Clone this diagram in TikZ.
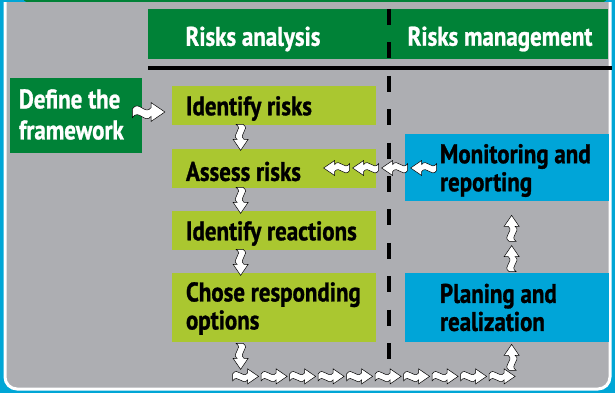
\documentclass[tikz,border=0pt]{standalone}
\usepackage{fontspec}
\setmainfont{PT Sans}[FakeStretch=0.85,FakeBold=1]
\usetikzlibrary{calc}
\definecolor{pageblue}{RGB}{0,166,214}
\definecolor{panelgrey}{RGB}{173,174,178}
\definecolor{darkgreen}{RGB}{0,130,55}
\definecolor{lightgreen}{RGB}{170,199,48}
\definecolor{boxblue}{RGB}{0,165,216}
\tikzset{
     %set default line width to 0.75pt
    every picture/.style={line width=0.75pt},
    head-box/.style={
        fill=darkgreen,
        minimum width=460pt,
        minimum height=50pt,
        inner sep=0pt,
    },
    frame-box/.style={
        fill=darkgreen,
        minimum width=132pt,
        minimum height=75pt,
        inner sep=0pt,
    },
    risk-box/.style={
        fill=lightgreen,
        minimum width=204pt,
        inner sep=0pt,
    },
    mgmt-box/.style={
        fill=boxblue,
        minimum width=204pt,
        inner sep=0pt,
    },
    box-text/.style={
        anchor=west,
        inner sep=0pt,
        align=left,
        font=\bfseries\fontsize{27}{28}\selectfont,
    },
    head-text/.style={
        text=white,
        inner sep=0pt,
        font=\bfseries\fontsize{27}{28}\selectfont,
    },
    wave-line/.style={
        fill=white,
        draw=black,
        line width=0.5pt,
    },
    wave arrow/.pic={
        \draw[wave-line] (0,-2.5) .. controls (5,-10) and (10,3) .. (15,-3.5) -- (15,-7.5) -- (26,0) -- (15,7.5) -- (15,3.5) .. controls (10,10) and (5,-3) .. (0,4.5) -- cycle;
    },
}
\begin{document}
\begin{tikzpicture}[x=1pt,y=-1pt]
\useasboundingbox (0,0) rectangle (615,393);

%page and panel
\fill[pageblue] (0,0) rectangle (615,393);
\fill[darkgreen, rounded corners=8pt] (22,-20) rectangle (608,3);
\begin{scope}
\clip (0,3) rectangle (615,393);
\draw[white, line width=3pt, fill=panelgrey, rounded corners=12pt] (5,-20) rectangle (610,389);
\end{scope}

%header
\node[head-box] (head) at (378,34) {};
\draw[line width=4pt] (148,68) -- (612,68);

%boxes
\node[frame-box] (frame) at (76,115.5) {};
\node[risk-box, minimum height=39pt] (idr) at (274,105.5) {};
\node[risk-box, minimum height=39pt] (asr) at (274,168.5) {};
\node[risk-box, minimum height=39pt] (ire) at (274,230.5) {};
\node[risk-box, minimum height=69pt] (cho) at (274,307.5) {};
\node[mgmt-box, minimum height=67pt] (mon) at (507,167.5) {};
\node[mgmt-box, minimum height=69pt] (pla) at (507,307.5) {};

%divider
\draw[line width=4pt, dash pattern=on 16pt off 17.4pt] (389,9) -- (389,362);

% Text Node
\node[head-text] (rat) at (253,39) {Risks analysis};
% Text Node
\node[head-text] (rmt) at (500,39) {Risks management};
% Text Node
\node[box-text, text=white, font=\bfseries\fontsize{27}{31}\selectfont] (framet) at ($(frame.west)+(9,-1)$) {Define the\\framework};
% Text Node
\node[box-text] (idrt) at ($(idr.west)+(14,3)$) {Identify risks};
% Text Node
\node[box-text] (asrt) at ($(asr.west)+(14,3)$) {Assess risks};
% Text Node
\node[box-text] (iret) at ($(ire.west)+(14,3)$) {Identify reactions};
% Text Node
\node[box-text] (chot) at ($(cho.west)+(14,1)$) {Chose responding\\options};
% Text Node
\node[box-text] (mont) at ($(mon.west)+(35,3)$) {Monitoring and\\reporting};
% Text Node
\node[box-text] (plat) at ($(pla.west)+(35,0)$) {Planing and\\realization};

%wave arrows
\pic[scale=1.25] at ($(frame.east)+(-10,-3.5)$) {wave arrow};
\pic[rotate=-90] at ($(idr.south west)+(69,-1)$) {wave arrow};
\pic[rotate=-90] at ($(asr.south west)+(69,-1)$) {wave arrow};
\pic[rotate=-90] at ($(ire.south west)+(69,-1)$) {wave arrow};
\pic[rotate=-90] at ($(cho.south west)+(69,1)$) {wave arrow};
\foreach \i in {0,...,9}
    \pic at ($(cho.south west)+(61+28.5*\i,34)$) {wave arrow};
\pic[rotate=90] at ($(pla.south west)+(107,28)$) {wave arrow};
\pic[rotate=90] at ($(pla.north west)+(107,-1)$) {wave arrow};
\pic[rotate=90] at ($(mon.south west)+(107,40)$) {wave arrow};
\foreach \i in {0,...,3}
    \pic[rotate=180] at ($(mon.west)+(32-29*\i,0.5)$) {wave arrow};
\end{tikzpicture}
\end{document}
